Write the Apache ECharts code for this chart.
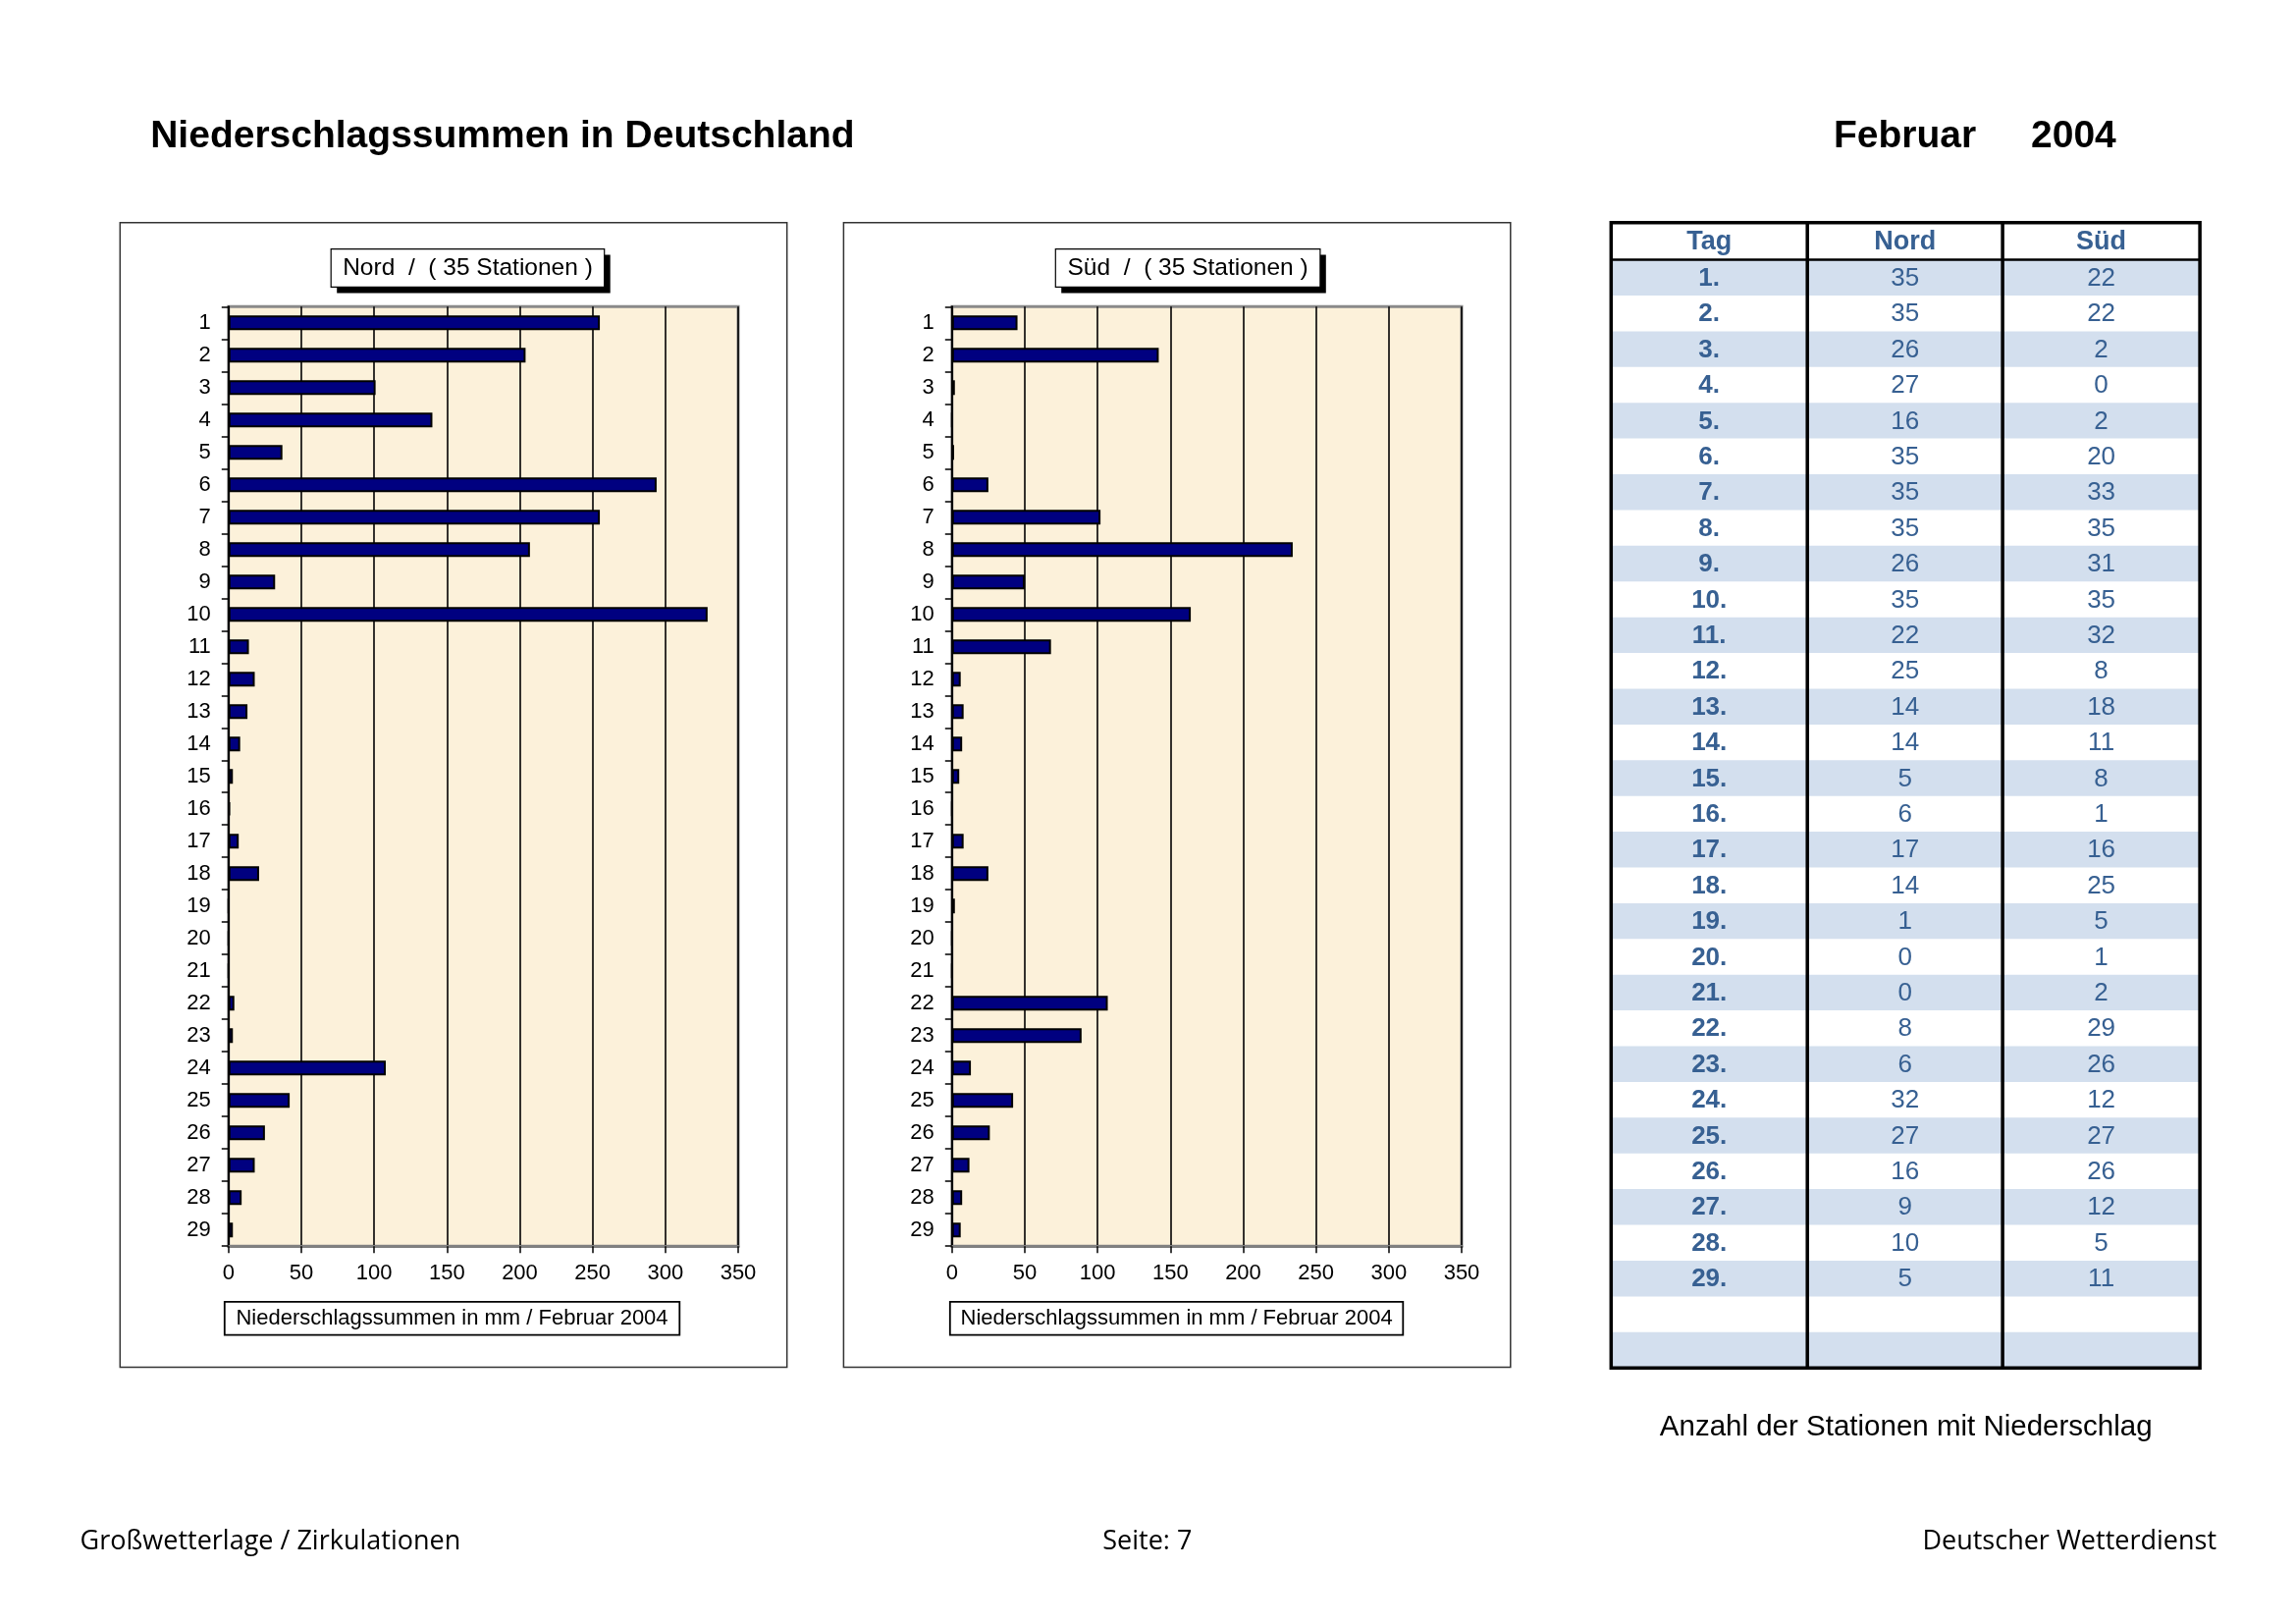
<!DOCTYPE html>
<html><head><meta charset="utf-8">
<script src="https://cdn.jsdelivr.net/npm/echarts@6/dist/echarts.min.js"></script>
<style>html,body{margin:0;padding:0;background:#fff}#c{width:2339px;height:1653px}</style>
</head><body><div id="c"></div>
<script>
const days = ['1','2','3','4','5','6','7','8','9','10','11','12','13','14','15','16','17','18','19','20','21','22','23','24','25','26','27','28','29'];
const nordMm = [255,204,101,140,37,294,255,207,32,329,14,18,13,8,3,1,7,21,0,0,0,4,3,108,42,25,18,9,3];
const suedMm = [45,142,2,0,1.5,25,102,234,50,164,68,6,8,7,5,0,8,25,2,0,0,107,89,13,42,26,12,7,6];
const nordStations = [35,35,26,27,16,35,35,35,26,35,22,25,14,14,5,6,17,14,1,0,0,8,6,32,27,16,9,10,5];
const suedStations = [22,22,2,0,2,20,33,35,31,35,32,8,18,11,8,1,16,25,5,1,2,29,26,12,27,26,12,5,11];
const xTickMin = 0, xTickMax = 350, xTickStep = 50;
const panelTitles = ['Nord  /  ( 35 Stationen )', 'Süd  /  ( 35 Stationen )'];
const axisCaption = 'Niederschlagssummen in mm / Februar 2004';
const tableHeader = ['Tag', 'Nord', 'Süd'];

const K = 0.9947;
const s = v => Math.round(v * K * 10) / 10;
const FONT = '"Liberation Sans", Arial, sans-serif';
const FF = '"Open Sans", "Noto Sans", sans-serif';
const chart = echarts.init(document.getElementById('c'), null, {renderer: 'canvas'});

const grids = [234, 975].map(l => ({
  left: s(l), top: s(314), width: s(522), height: s(962),
  show: true, backgroundColor: '#FCF1DA', borderColor: '#8a8a8a', borderWidth: 3
}));

function xAx(i) {
  return {
    gridIndex: i, type: 'value', min: xTickMin, max: xTickMax, interval: xTickStep,
    axisLine: {show: true, onZero: false, lineStyle: {color: '#808080', width: 3}},
    axisTick: {show: true, length: 7, lineStyle: {color: '#000', width: 1.5}},
    axisLabel: {fontSize: 22, color: '#000', margin: 17, fontFamily: FONT},
    splitLine: {show: true, lineStyle: {color: '#000', width: 1.6}}
  };
}
function yAx(i) {
  return {
    gridIndex: i, type: 'category', data: days, inverse: true,
    axisLine: {show: true, onZero: false, lineStyle: {color: '#000', width: 2}},
    axisTick: {show: true, length: 7, alignWithLabel: false, lineStyle: {color: '#000', width: 1.5}},
    axisLabel: {fontSize: 22, color: '#000', margin: 18, fontFamily: FONT, interval: 0}
  };
}
function barSeries(i, data) {
  return {
    type: 'bar', xAxisIndex: i, yAxisIndex: i, data: data, barWidth: 15,
    itemStyle: {color: '#000080', borderColor: '#000', borderWidth: 2},
    animation: false, silent: true
  };
}

const graphics = [];
const txt = (text, x, y, font, opts) => graphics.push(Object.assign({type: 'text', z: 7, style: Object.assign({text: text, x: s(x), y: s(y), font: font, fill: '#000', textVerticalAlign: 'middle'}, opts || {})}));

// Page title
txt('Niederschlagssummen in Deutschland', 154, 140, 'bold 39px ' + FONT);
txt('Februar', 1878, 140, 'bold 39px ' + FONT);
txt('2004', 2080, 140, 'bold 39px ' + FONT);

// Panels
const panelX = [123, 864];
const titleBox = [{x: 339, w: 280}, {x: 1081, w: 271}];
const capBox = [{x: 230, w: 466}, {x: 973, w: 464}];
for (let p = 0; p < 2; p++) {
  graphics.push({type: 'rect', z: -1, shape: {x: s(panelX[p]), y: s(228), width: s(683), height: s(1172)}, style: {fill: '#fff', stroke: '#333', lineWidth: 1.5}});
  const tb = titleBox[p];
  graphics.push({type: 'rect', z: 5, shape: {x: s(tb.x + 6), y: s(261), width: s(tb.w), height: s(39)}, style: {fill: '#000'}});
  graphics.push({type: 'rect', z: 6, shape: {x: s(tb.x), y: s(255), width: s(tb.w), height: s(39)}, style: {fill: '#fff', stroke: '#000', lineWidth: 1.2}});
  txt(panelTitles[p], tb.x + tb.w / 2, 275, '24.5px ' + FONT, {textAlign: 'center'});
  const cb = capBox[p];
  graphics.push({type: 'rect', z: 6, shape: {x: s(cb.x), y: s(1333), width: s(cb.w), height: s(34)}, style: {fill: '#fff', stroke: '#000', lineWidth: 1.8}});
  txt(axisCaption, cb.x + cb.w / 2, 1350.5, '22px ' + FONT, {textAlign: 'center'});
}

// Table
const cols = [1650, 1851, 2051, 2253];
const tTop = 228, headH = 38, rowH = 36.6, nRows = 31;
const blue = '#376092', stripe = '#D3DFEE';
for (let i = 0; i < nRows; i++) {
  const y = tTop + headH + i * rowH;
  if (i % 2 === 0) {
    graphics.push({type: 'rect', z: 1, shape: {x: s(cols[0]), y: s(y), width: s(cols[3] - cols[0]), height: s(rowH)}, style: {fill: stripe}});
  }
  if (i < days.length) {
    const vals = [days[i] + '.', String(nordStations[i]), String(suedStations[i])];
    for (let c = 0; c < 3; c++) {
      txt(vals[c], (cols[c] + cols[c + 1]) / 2, y + rowH / 2 + 1, (c === 0 ? 'bold ' : '') + '26px ' + FONT, {fill: blue, textAlign: 'center'});
    }
  }
}
for (let c = 0; c < 3; c++) {
  txt(tableHeader[c], (cols[c] + cols[c + 1]) / 2, tTop + headH / 2 + 1, 'bold 27px ' + FONT, {fill: blue, textAlign: 'center'});
}
const tBottom = tTop + headH + nRows * rowH;
graphics.push({type: 'line', z: 4, shape: {x1: s(cols[0]), y1: s(tTop + headH), x2: s(cols[3]), y2: s(tTop + headH)}, style: {stroke: '#000', lineWidth: 2.5}});
graphics.push({type: 'line', z: 4, shape: {x1: s(cols[1]), y1: s(tTop), x2: s(cols[1]), y2: s(tBottom)}, style: {stroke: '#000', lineWidth: 3.5}});
graphics.push({type: 'line', z: 4, shape: {x1: s(cols[2]), y1: s(tTop), x2: s(cols[2]), y2: s(tBottom)}, style: {stroke: '#000', lineWidth: 3.5}});
graphics.push({type: 'rect', z: 4, shape: {x: s(cols[0]), y: s(tTop), width: s(cols[3] - cols[0]), height: s(tBottom - tTop)}, style: {fill: 'none', stroke: '#000', lineWidth: 3.5}});
txt('Anzahl der Stationen mit Niederschlag', 1952, 1462, '29.5px ' + FONT, {textAlign: 'center'});

// Footer
txt('Großwetterlage / Zirkulationen', 82, 1579, '27px ' + FF);
txt('Seite: 7', 1175, 1579, '27px ' + FF, {textAlign: 'center'});
txt('Deutscher Wetterdienst', 2270, 1579, '27px ' + FF, {textAlign: 'right'});

chart.setOption({
  animation: false,
  backgroundColor: '#fff',
  grid: grids,
  xAxis: [xAx(0), xAx(1)],
  yAxis: [yAx(0), yAx(1)],
  series: [barSeries(0, nordMm), barSeries(1, suedMm)],
  graphic: graphics
});
</script></body></html>
